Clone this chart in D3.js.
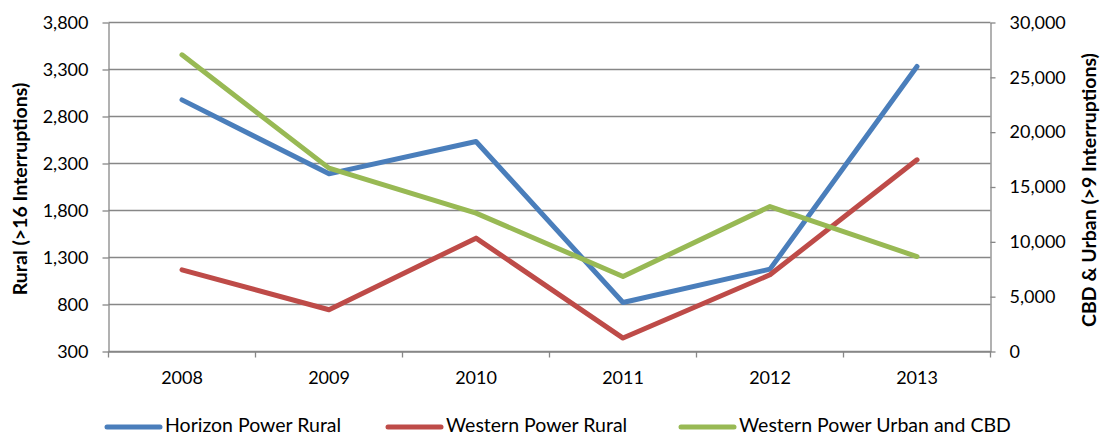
<!DOCTYPE html>
<html><head><meta charset="utf-8">
<script src="https://cdnjs.cloudflare.com/ajax/libs/d3/7.8.5/d3.min.js"></script>
<style>
body{margin:0;background:#fff;}
svg{display:block;font-family:Lato,"Open Sans",sans-serif;}
</style></head><body>
<svg id="chart" width="1104" height="437"></svg>
<script>
const years = ["2008","2009","2010","2011","2012","2013"];
const horizonRural = [2977, 2190, 2534, 821, 1176, 3332];
const westernRural = [1169, 744, 1506, 443, 1116, 2339];
const westernUrbanCBD = [27050, 16720, 12620, 6840, 13220, 8660];
const leftTicks = [300, 800, 1300, 1800, 2300, 2800, 3300, 3800];
const rightTicks = [0, 5000, 10000, 15000, 20000, 25000, 30000];
const seriesNames = ["Horizon Power Rural", "Western Power Rural", "Western Power Urban and CBD"];
const colors = ["#4A7EBB", "#BE4B48", "#98B954"];

const svg = d3.select("#chart");
const L = 108.5, R = 990.5, T = 22.5, B = 351.5;
const x = d3.scaleBand().domain(years).range([L, R]);
const yL = d3.scaleLinear().domain([300, 3800]).range([B, T]);
const yR = d3.scaleLinear().domain([0, 30000]).range([B, T]);
const grid = "#878787";
const fmt = d3.format(",");

// gridlines
svg.append("g").selectAll("line").data(leftTicks).join("line")
  .attr("x1", L).attr("x2", R).attr("y1", d => yL(d)).attr("y2", d => yL(d))
  .attr("stroke", grid).attr("stroke-width", 1.3);

// left axis
const gl = svg.append("g").attr("transform", `translate(${L},0)`)
  .call(d3.axisLeft(yL).tickValues(leftTicks).tickFormat(fmt).tickSize(6).tickSizeOuter(0).tickPadding(14));
// right axis
const gr = svg.append("g").attr("transform", `translate(${R},0)`)
  .call(d3.axisRight(yR).tickValues(rightTicks).tickFormat(fmt).tickSize(5).tickSizeOuter(0).tickPadding(14));
// bottom axis labels
const gb = svg.append("g").attr("transform", `translate(0,${B})`)
  .call(d3.axisBottom(x).tickSize(0).tickPadding(20));
// category boundary ticks
const bounds = years.map(y => x(y)).concat([x(years[years.length-1]) + x.bandwidth()]);
svg.append("g").selectAll("line").data(bounds).join("line")
  .attr("x1", d => d).attr("x2", d => d).attr("y1", B).attr("y2", B + 6)
  .attr("stroke", grid).attr("stroke-width", 1.3);

[gl, gr, gb].forEach(g => {
  g.selectAll("path.domain").attr("stroke", grid).attr("stroke-width", 1.3);
  g.selectAll(".tick line").attr("stroke", grid).attr("stroke-width", 1.3);
  g.selectAll("text").attr("fill", "#000").style("font-size", "18px").style("font-family", "Lato, sans-serif");
});

// axis titles
svg.append("text").attr("transform", `translate(27,${(T+B)/2 + 2}) rotate(-90)`)
  .attr("text-anchor", "middle").style("font-size", "19.5px").style("font-weight", "bold").text("Rural (>16 Interruptions)");
svg.append("text").attr("transform", `translate(1096,${(T+B)/2 + 3}) rotate(-90)`)
  .attr("text-anchor", "middle").style("font-size", "19.5px").style("font-weight", "bold").text("CBD & Urban (>9 Interruptions)");

// lines
const cx = d => x(d) + x.bandwidth() / 2;
const seriesData = [
  {vals: horizonRural, scale: yL},
  {vals: westernRural, scale: yL},
  {vals: westernUrbanCBD, scale: yR}
];
seriesData.forEach((s, i) => {
  const line = d3.line().x((d, j) => cx(years[j])).y(d => s.scale(d));
  svg.append("path").datum(s.vals).attr("d", line)
    .attr("fill", "none").attr("stroke", colors[i]).attr("stroke-width", 5)
    .attr("stroke-linejoin", "round").attr("stroke-linecap", "round");
});

// legend
const legX = [107, 388, 681];
const legY = 427;
seriesNames.forEach((n, i) => {
  const g = svg.append("g");
  g.append("line").attr("x1", legX[i]).attr("x2", legX[i] + 53).attr("y1", legY).attr("y2", legY)
    .attr("stroke", colors[i]).attr("stroke-width", 5).attr("stroke-linecap", "round");
  g.append("text").attr("x", legX[i] + 58).attr("y", 432)
    .style("font-size", "19.5px").text(n);
});
</script>
</body></html>
